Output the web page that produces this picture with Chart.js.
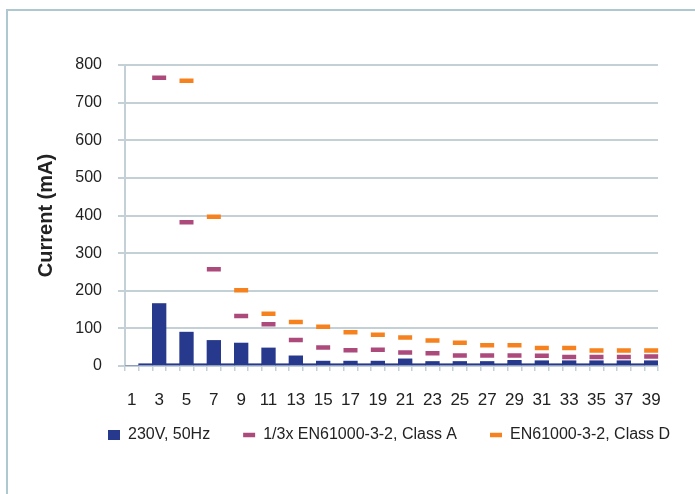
<!DOCTYPE html>
<html>
<head>
<meta charset="utf-8">
<script src="https://cdn.jsdelivr.net/npm/chart.js@4/dist/chart.umd.min.js"></script>
<style>
    body{
        margin:0;
        background:#ffffff;
        overflow:hidden;
    }
    .frame{
        position:absolute;
        left:6px;
        top:9px;
        width:800px;
        height:600px;
        border-left:2px solid #aec8cf;
        border-top:2px solid #aec8cf;
    }
    #harmChart{
        position:absolute;
        left:0;
        top:0;
    }
</style>
</head>
<body>

<div class="frame"></div>
<canvas id="harmChart" width="695" height="494"></canvas>

<script>

// harmonic number on the x axis
const harmonics = [1,2,3,4,5,6,7,8,9,10,11,12,13,14,15,16,17,18,19,20,
    21,22,23,24,25,26,27,28,29,30,31,32,33,34,35,36,37,38,39];

// measured current, 230V 50Hz (mA), one value per harmonic
const measured = [0,6,166,6,90,6,68,6,61,6,48,6,27,6,13,6,13,6,13,6,
    19,6,12,6,12,6,12,6,15,6,14,6,14,6,14,6,14,6,14];

// 1/3 x EN61000-3-2 class A limit, odd harmonics 3..39
const limitA = [766,382,257,133,111,69,49,42,43,36,34,28,28,28,27,24,24,24,25];

// EN61000-3-2 class D limit, as plotted in the sheet: odd slots 5..39
const limitD = [758,397,201,139,117,104,90,83,76,68,62,55,55,48,48,41,41,41];

const yTicks = [0,100,200,300,400,500,600,700,800];

const blue = '#27398c';
const purple = '#ad4a7c';
const orange = '#f5821f';
const gridColor = '#c3d1d7';

let classA = harmonics.map(h => (h % 2 === 1 && h >= 3) ? limitA[(h - 3) / 2] : null);
let classD = harmonics.map(h => (h % 2 === 1 && h >= 5) ? limitD[(h - 5) / 2] : null);

// move the legend row so it sits where the original one is
const legendShift = {
    id:'legendShift',
    afterLayout(chart){
        let lg = chart.legend;
        if(!lg || !lg.lineWidths) return;
        let pad = lg.options.labels.padding;
        let cur = (lg.left + pad + lg.right - lg.lineWidths[0]) / 2;
        let shift = 108 - cur;
        lg.left += shift;
        lg.right += shift;
        lg.top -= 18;
        lg.bottom -= 18;
    }
};

Chart.defaults.font.family = '"Liberation Sans", Arial, sans-serif';
Chart.defaults.color = '#222222';

new Chart(document.getElementById('harmChart'), {

    type:'bar',

    data:{
        labels:harmonics,
        datasets:[{
            label:'230V, 50Hz',
            data:measured,
            backgroundColor:blue,
            categoryPercentage:1,
            barPercentage:1,
            order:2
        },{
            type:'line',
            label:'1/3x EN61000-3-2, Class A',
            data:classA,
            showLine:false,
            pointStyle:'line',
            pointRadius:7,
            pointHoverRadius:7,
            pointBorderWidth:4.5,
            borderColor:purple,
            backgroundColor:purple,
            order:1
        },{
            type:'line',
            label:'EN61000-3-2, Class D',
            data:classD,
            showLine:false,
            pointStyle:'line',
            pointRadius:7,
            pointHoverRadius:7,
            pointBorderWidth:4.5,
            borderColor:orange,
            backgroundColor:orange,
            order:0
        }]
    },

    options:{
        responsive:false,
        animation:false,
        devicePixelRatio:1,
        layout:{
            padding:{left:10, right:37, top:65, bottom:23}
        },
        plugins:{
            tooltip:{enabled:false},
            legend:{
                position:'bottom',
                labels:{
                    font:{size:16},
                    color:'#222222',
                    padding:33,
                    usePointStyle:true,
                    pointStyleWidth:12,
                    boxHeight:10,
                    generateLabels:function(chart){
                        let colors = [blue, purple, orange];
                        return chart.data.datasets.map((ds, i) => ({
                            text:ds.label,
                            fillStyle:colors[i],
                            strokeStyle:colors[i],
                            lineWidth:i === 0 ? 0 : 4.5,
                            pointStyle:i === 0 ? 'rect' : 'line',
                            fontColor:'#222222',
                            hidden:false,
                            datasetIndex:i
                        }));
                    }
                }
            }
        },
        scales:{
            x:{
                offset:true,
                grid:{
                    offset:true,
                    drawOnChartArea:false,
                    drawTicks:true,
                    tickLength:5,
                    color:gridColor,
                    lineWidth:1.5
                },
                border:{color:gridColor, width:2},
                ticks:{
                    autoSkip:false,
                    maxRotation:0,
                    padding:19,
                    font:{size:17},
                    color:'#222222',
                    callback:function(value, index){
                        let h = harmonics[index];
                        return h % 2 === 1 ? String(h) : '';
                    }
                },
                afterFit:function(scale){
                    scale.height = 46;
                }
            },
            y:{
                min:yTicks[0],
                max:yTicks[yTicks.length - 1],
                afterBuildTicks:function(scale){
                    scale.ticks = yTicks.map(v => ({value:v}));
                },
                grid:{
                    color:gridColor,
                    lineWidth:2,
                    tickLength:7
                },
                border:{color:gridColor, width:2},
                ticks:{
                    padding:16,
                    font:{size:16},
                    color:'#222222'
                },
                title:{
                    display:true,
                    text:'Current (mA)',
                    font:{size:20, weight:'bold'},
                    color:'#222222',
                    padding:{top:24, bottom:0}
                },
                afterFit:function(scale){
                    scale.width = 115;
                }
            }
        }
    },

    plugins:[legendShift]
});

</script>
</body>
</html>
